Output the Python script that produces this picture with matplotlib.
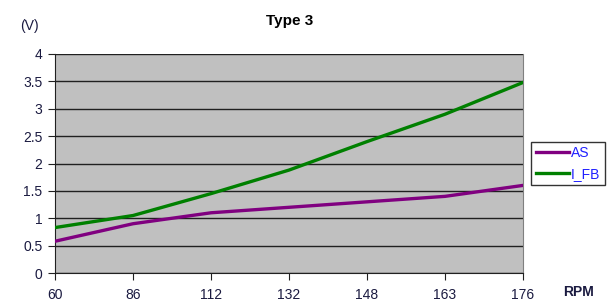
import matplotlib
matplotlib.use("Agg")
import matplotlib.pyplot as plt

# Dados
rpm = ['60', '86', '112', '132', '148', '163', '176']
as_vals = [0.58, 0.9, 1.1, 1.2, 1.3, 1.4, 1.6]
ifb_vals = [0.83, 1.05, 1.45, 1.88, 2.4, 2.9, 3.48]
yticks = [0, 0.5, 1, 1.5, 2, 2.5, 3, 3.5, 4]

plt.rcParams['font.family'] = ['Liberation Sans', 'DejaVu Sans']

fig = plt.figure(figsize=(6.12, 3.01), dpi=100)
ax = fig.add_axes([0.0899, 0.093, 0.7647, 0.7276])
ax.set_facecolor('#c0c0c0')

x = range(len(rpm))
ax.plot(x, as_vals, color='#800080', lw=2.4, label='AS', zorder=3)
ax.plot(x, ifb_vals, color='#008000', lw=2.4, label='I_FB', zorder=3)

ax.set_xlim(0, len(rpm) - 1)
ax.set_ylim(0, 4)
ax.set_xticks(list(x))
ax.set_xticklabels(rpm)
ax.set_yticks(yticks)
ax.set_yticklabels([f'{v:g}' for v in yticks])
ax.yaxis.grid(True, color='#202020', lw=1)
ax.set_axisbelow(True)

ax.spines['top'].set_visible(False)
ax.spines['right'].set_color('#808080')
ax.spines['left'].set_color('#202020')
ax.spines['bottom'].set_color('#202020')
ax.tick_params(axis='both', direction='out', length=5, color='#202020',
               labelsize=10, labelcolor='#1a1a40', pad=4)
ax.tick_params(axis='x', pad=6)

fig.text(0.474, 0.93, 'Type 3', ha='center', va='center', fontsize=11, fontweight='bold')
fig.text(0.048, 0.915, '(V)', ha='center', va='center', fontsize=10, color='#1a1a40')
fig.text(0.945, 0.03, 'RPM', ha='center', va='center', fontsize=10, fontweight='bold',
         color='#1a1a40')

leg = ax.legend(loc='center left', bbox_to_anchor=(1.018, 0.5), frameon=True,
                fancybox=False, edgecolor='black', fontsize=10, handlelength=2.4,
                handletextpad=0.15, borderpad=0.3, labelspacing=0.5,
                borderaxespad=0)
leg.get_frame().set_linewidth(1)
for t in leg.get_texts():
    t.set_color('#2020ff')

fig.savefig('out.png', dpi=100)
